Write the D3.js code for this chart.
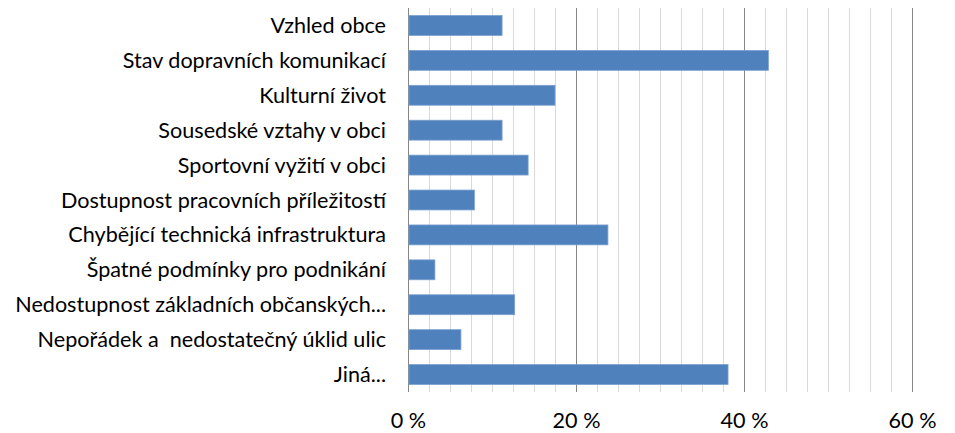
<!DOCTYPE html>
<html>
<head>
<meta charset="utf-8">
<script src="https://cdn.jsdelivr.net/npm/d3@7"></script>
<style>
  body { margin: 0; background: #fff; }
  svg text { font-family: Lato, "Open Sans", sans-serif; fill: #000; white-space: pre; }
</style>
</head>
<body>
<svg id="chart"></svg>
<script>
const categories = [
  'Vzhled obce',
  'Stav dopravních komunikací',
  'Kulturní život',
  'Sousedské vztahy v obci',
  'Sportovní vyžití v obci',
  'Dostupnost pracovních příležitostí',
  'Chybějící technická infrastruktura',
  'Špatné podmínky pro podnikání',
  'Nedostupnost základních občanských...',
  'Nepořádek a  nedostatečný úklid ulic',
  'Jiná...'
];
const values = [11.2, 42.9, 17.5, 11.2, 14.3, 7.9, 23.8, 3.2, 12.7, 6.3, 38.1];
const majorTicks = [0, 20, 40, 60];
const minorTicks = d3.range(0, 62.5, 2.5);

const width = 955, height = 433;
const margin = { top: 8, right: 43, bottom: 41, left: 408 };
const fontSize = 21.6;

const svg = d3.select('#chart').attr('width', width).attr('height', height);

const x = d3.scaleLinear()
  .domain([0, 60])
  .range([margin.left, width - margin.right]);

const y = d3.scaleBand()
  .domain(categories)
  .range([margin.top, height - margin.bottom])
  .paddingInner(0.43)
  .paddingOuter(0.215);

// gridlines
svg.append('g')
  .selectAll('line')
  .data(minorTicks.filter(d => d % 20 !== 0))
  .join('line')
  .attr('x1', d => Math.round(x(d)) + 0.5)
  .attr('x2', d => Math.round(x(d)) + 0.5)
  .attr('y1', margin.top)
  .attr('y2', height - margin.bottom)
  .attr('stroke', '#d9d9d9');

svg.append('g')
  .selectAll('line')
  .data(majorTicks)
  .join('line')
  .attr('x1', d => Math.round(x(d)) + 0.5)
  .attr('x2', d => Math.round(x(d)) + 0.5)
  .attr('y1', margin.top)
  .attr('y2', height - margin.bottom)
  .attr('stroke', '#868686');

// bars
svg.append('g')
  .selectAll('rect')
  .data(values)
  .join('rect')
  .attr('x', x(0) + 1)
  .attr('y', (d, i) => y(categories[i]))
  .attr('width', d => x(d) - x(0) - 1)
  .attr('height', y.bandwidth())
  .attr('fill', '#4f81bd')
  .attr('stroke', '#7ba0d0')
  .attr('stroke-width', 0.8);

// category labels
svg.append('g')
  .selectAll('text')
  .data(categories)
  .join('text')
  .attr('x', margin.left - 22)
  .attr('y', d => y(d) + y.bandwidth() / 2)
  .attr('dy', '0.35em')
  .attr('text-anchor', 'end')
  .attr('font-size', fontSize)
  .text(d => d);

// x axis labels
const xAxis = d3.axisBottom(x)
  .tickValues(majorTicks)
  .tickSize(0)
  .tickPadding(21)
  .tickFormat(d => d + ' %');

svg.append('g')
  .attr('transform', `translate(0,${height - margin.bottom})`)
  .call(xAxis)
  .call(g => g.select('.domain').remove())
  .call(g => g.selectAll('text').attr('font-size', fontSize).style('font-family', 'Lato, "Open Sans", sans-serif').attr('fill', '#000'));
</script>
</body>
</html>
